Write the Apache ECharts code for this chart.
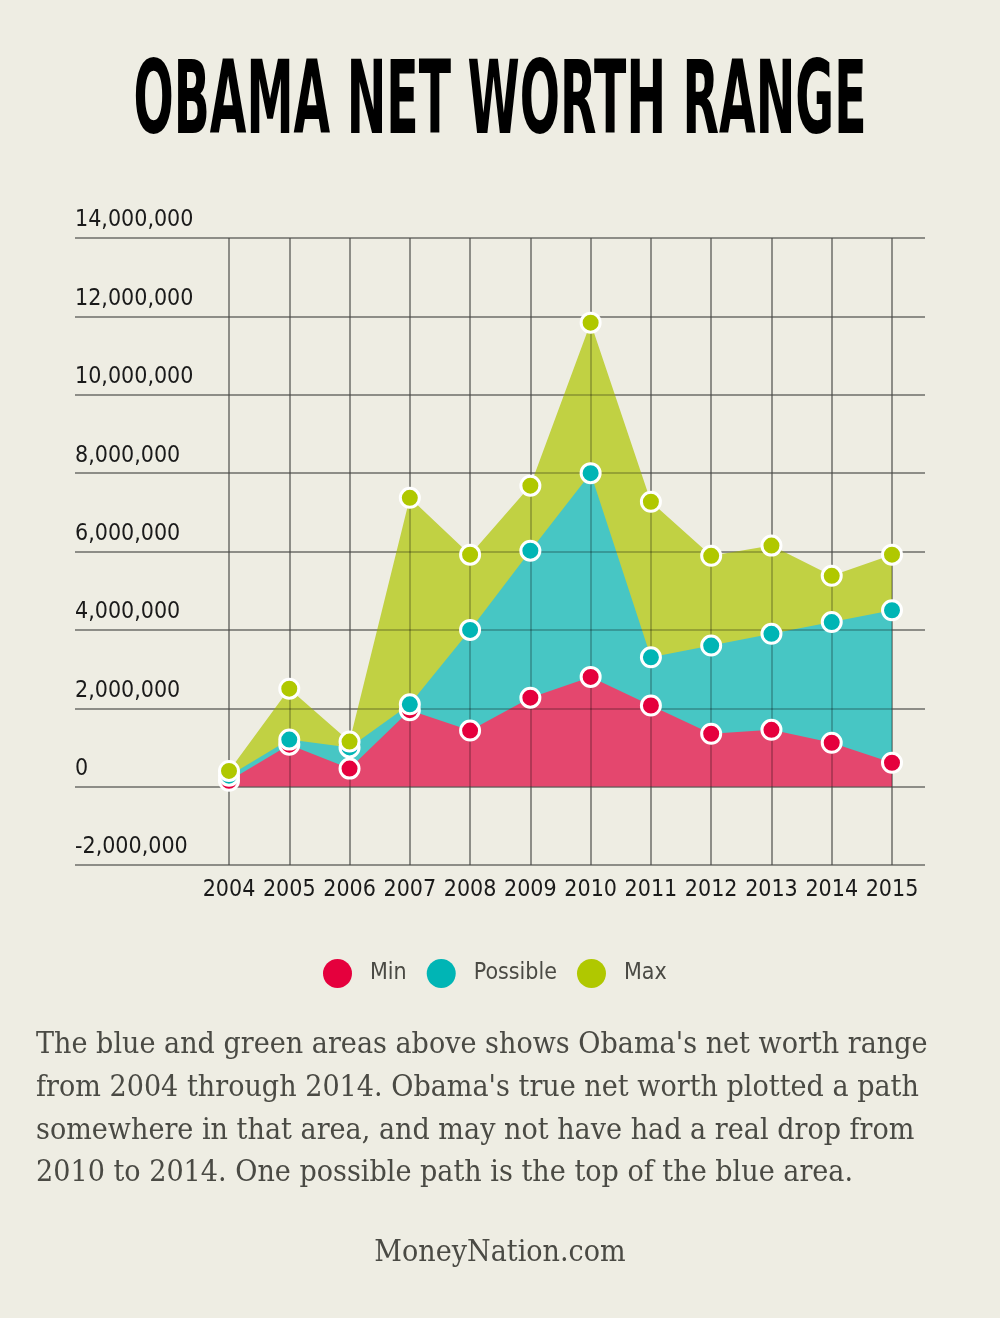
<!DOCTYPE html>
<html>
<head>
<meta charset="utf-8">
<script src="https://cdn.jsdelivr.net/npm/echarts@6/dist/echarts.min.js"></script>
<style>
  html, body { margin: 0; padding: 0; background: #EEEDE3; }
  #chart { width: 1000px; height: 1318px; }
</style>
</head>
<body>
<div id="chart"></div>
<script>
// ---- data ----
const years = ['2004','2005','2006','2007','2008','2009','2010','2011','2012','2013','2014','2015'];
const minValues = [150000, 1070000, 460000, 1950000, 1430000, 2270000, 2800000, 2070000, 1350000, 1450000, 1120000, 610000];
const possibleValues = [280000, 1200000, 1000000, 2100000, 4000000, 6020000, 8000000, 3300000, 3600000, 3900000, 4200000, 4500000];
const maxValues = [400000, 2500000, 1150000, 7370000, 5920000, 7680000, 11840000, 7270000, 5890000, 6150000, 5380000, 5920000];
const yTickLabels = ['-2,000,000', '0', '2,000,000', '4,000,000', '6,000,000', '8,000,000', '10,000,000', '12,000,000', '14,000,000'];
const seriesNames = ['Min', 'Possible', 'Max'];
const titleText = 'OBAMA NET WORTH RANGE';
const descLines = [
  "The blue and green areas above shows Obama's net worth range",
  "from 2004 through 2014. Obama's true net worth plotted a path",
  "somewhere in that area, and may not have had a real drop from",
  "2010 to 2014. One possible path is the top of the blue area."
];
const sourceText = 'MoneyNation.com';

// ---- styling helpers ----
const narrow = '"Liberation Sans Narrow", "DejaVu Sans Condensed", "Roboto", sans-serif';
const serif = '"DejaVu Serif", "Liberation Serif", serif';
const ctx = document.createElement('canvas').getContext('2d');
function measure(text, font) { ctx.font = font; return ctx.measureText(text).width; }

const titleFontSize = 102;
const titleScale = 733 / measure(titleText, 'bold ' + titleFontSize + 'px ' + narrow);

const descFontSize = 29;
const descTargets = [899, 875, 893, 803];
let mSum = 0, tSum = 0;
descLines.forEach((l, i) => { mSum += measure(l, descFontSize + 'px ' + serif); tSum += descTargets[i]; });
const descScale = tSum / mSum;
const descY = [1045, 1088, 1131, 1173];

const MARKER = { min: '#E5003D', possible: '#00B5B5', max: '#B0C800' };
const AREA = { min: '#E4476E', possible: '#47C6C4', max: '#C1D143' };
const Y_MIN = -2000000, Y_MAX = 14000000, Y_INT = 2000000;
const gridTop = 238, gridBottom = 1318 - 865;
const LINE_UNDER = '#A3A39D';
const LINE_OVER = 'rgba(0,0,0,0.3)';
const AXIS_FONT = 23;

const chart = echarts.init(document.getElementById('chart'), null, { renderer: 'canvas' });

function areaSeries(name, data, color, z) {
  return {
    name: name, type: 'line', data: data, xAxisIndex: 1, yAxisIndex: 1,
    showSymbol: false, symbol: 'none', z: z,
    lineStyle: { width: 0, color: color },
    itemStyle: { color: color },
    areaStyle: { color: color, opacity: 1, origin: 0 },
    silent: true
  };
}
function markerSeries(name, data, color, z) {
  return {
    name: name, type: 'scatter', data: data, xAxisIndex: 1, yAxisIndex: 1,
    symbol: 'circle', symbolSize: 19, z: z,
    itemStyle: { color: color, borderColor: '#ffffff', borderWidth: 3, opacity: 1 }
  };
}

const graphics = [
  {
    type: 'text', x: 500, y: 106, scaleX: titleScale, scaleY: 1,
    style: { text: titleText, font: 'bold ' + titleFontSize + 'px ' + narrow, fill: '#000000', textAlign: 'center', textVerticalAlign: 'middle' }
  }
];
descLines.forEach((l, i) => {
  graphics.push({
    type: 'text', x: 36, y: descY[i], scaleX: descScale, scaleY: 1,
    style: { text: l, font: descFontSize + 'px ' + serif, fill: '#4a4a44', textAlign: 'left', textVerticalAlign: 'middle' }
  });
});
graphics.push({
  type: 'text', x: 500, y: 1253, scaleX: descScale, scaleY: 1,
  style: { text: sourceText, font: descFontSize + 'px ' + serif, fill: '#4a4a44', textAlign: 'center', textVerticalAlign: 'middle' }
});

const option = {
  backgroundColor: '#EEEDE3',
  animation: false,
  graphic: graphics,
  legend: {
    data: [
      { name: seriesNames[0], itemStyle: { color: MARKER.min, borderWidth: 0 } },
      { name: seriesNames[1], itemStyle: { color: MARKER.possible, borderWidth: 0 } },
      { name: seriesNames[2], itemStyle: { color: MARKER.max, borderWidth: 0 } }
    ],
    top: 954, left: 318,
    icon: 'circle', itemWidth: 29, itemHeight: 29, itemGap: 20,
    itemStyle: { borderWidth: 0 },
    textStyle: { fontFamily: narrow, fontSize: AXIS_FONT, color: '#4a4a44', padding: [0, 0, 0, 13] }
  },
  grid: [
    { left: 75, right: 75, top: gridTop, bottom: gridBottom, containLabel: false },
    { left: 229, right: 108, top: gridTop, bottom: gridBottom, containLabel: false },
    { left: 75, right: 75, top: gridTop, bottom: gridBottom, containLabel: false },
    { left: 229, right: 108, top: gridTop, bottom: gridBottom, containLabel: false }
  ],
  xAxis: [
    { type: 'value', gridIndex: 0, min: 0, max: 1, show: false },
    {
      type: 'category', gridIndex: 1, data: years, boundaryGap: false, z: 0,
      axisLine: { show: false }, axisTick: { show: false },
      splitLine: { show: true, interval: 0, lineStyle: { color: LINE_UNDER, width: 1.5 } },
      axisLabel: { interval: 0, fontFamily: narrow, fontSize: AXIS_FONT, color: '#1a1a1a', margin: 14 }
    },
    { type: 'value', gridIndex: 2, min: 0, max: 1, show: false },
    {
      type: 'category', gridIndex: 3, data: years, boundaryGap: false, z: 5,
      axisLine: { show: false }, axisTick: { show: false }, axisLabel: { show: false },
      splitLine: { show: true, interval: 0, lineStyle: { color: LINE_OVER, width: 1.5 } }
    }
  ],
  yAxis: [
    {
      type: 'value', gridIndex: 0, min: Y_MIN, max: Y_MAX, interval: Y_INT, z: 0,
      axisLine: { show: false }, axisTick: { show: false },
      splitLine: { show: true, lineStyle: { color: LINE_UNDER, width: 1.5 } },
      axisLabel: {
        inside: true, margin: 0, align: 'left', verticalAlign: 'bottom',
        padding: [0, 0, 6, 0],
        fontFamily: narrow, fontSize: AXIS_FONT, color: '#1a1a1a',
        formatter: function (v) { return yTickLabels[Math.round((v - Y_MIN) / Y_INT)]; }
      }
    },
    {
      type: 'value', gridIndex: 1, min: Y_MIN, max: Y_MAX, interval: Y_INT,
      show: false, splitLine: { show: false }
    },
    {
      type: 'value', gridIndex: 2, min: Y_MIN, max: Y_MAX, interval: Y_INT, z: 5,
      axisLine: { show: false }, axisTick: { show: false }, axisLabel: { show: false },
      splitLine: { show: true, lineStyle: { color: LINE_OVER, width: 1.5 } }
    },
    {
      type: 'value', gridIndex: 3, min: Y_MIN, max: Y_MAX, interval: Y_INT,
      show: false, splitLine: { show: false }
    }
  ],
  series: [
    areaSeries(seriesNames[2], maxValues, AREA.max, 2),
    areaSeries(seriesNames[1], possibleValues, AREA.possible, 3),
    areaSeries(seriesNames[0], minValues, AREA.min, 4),
    markerSeries(seriesNames[0], minValues, MARKER.min, 10),
    markerSeries(seriesNames[1], possibleValues, MARKER.possible, 11),
    markerSeries(seriesNames[2], maxValues, MARKER.max, 12)
  ]
};
chart.setOption(option);
</script>
</body>
</html>
